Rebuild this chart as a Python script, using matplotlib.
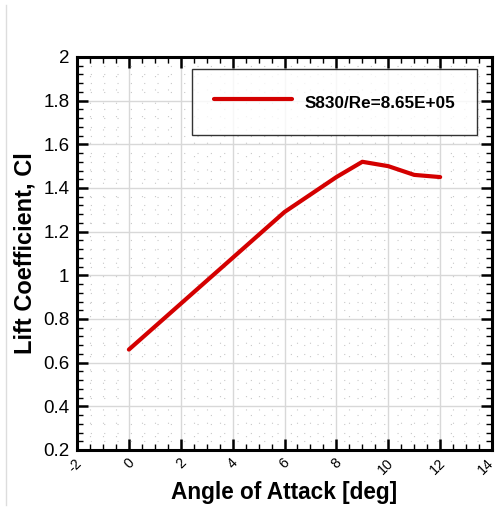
import matplotlib
matplotlib.use("Agg")
import matplotlib.pyplot as plt
from matplotlib.ticker import MultipleLocator
from matplotlib.lines import Line2D
from matplotlib.transforms import ScaledTranslation

plt.rcParams['font.family'] = ['Liberation Sans', 'DejaVu Sans']

alpha = [0, 1, 2, 3, 4, 5, 6, 7, 8, 9, 10, 11, 12]
cl = [0.66, 0.765, 0.87, 0.975, 1.08, 1.185, 1.29, 1.37, 1.45, 1.52, 1.50, 1.46, 1.45]
series_label = "S830/Re=8.65E+05"
x_ticks = [-2, 0, 2, 4, 6, 8, 10, 12, 14]
y_ticks = [0.2, 0.4, 0.6, 0.8, 1, 1.2, 1.4, 1.6, 1.8, 2]

fig = plt.figure(figsize=(4.95, 5.12), dpi=100)
ax = fig.add_axes([0.1556, 0.1211, 0.8384, 0.7676])

ax.plot(alpha, cl, color='#d40000', lw=3.0, solid_capstyle='round',
        solid_joinstyle='round', label=series_label, zorder=3)

ax.set_xlim(-2, 14)
ax.set_ylim(0.2, 2)
ax.set_xticks(x_ticks)
ax.set_yticks(y_ticks)
ax.set_xticklabels([''] * len(x_ticks))
for t in x_ticks:
    dx = -6 if t == x_ticks[-1] else -2
    tr = ax.get_xaxis_transform() + ScaledTranslation(dx/100, -6/100, fig.dpi_scale_trans)
    ax.text(t, 0, str(t), transform=tr, rotation=45, rotation_mode='anchor',
            ha='right', va='top', fontsize=10.3, clip_on=False)
ax.set_yticklabels([('%g' % t) for t in y_ticks], fontsize=13.5)
ax.xaxis.set_minor_locator(MultipleLocator(0.5))
ax.yaxis.set_minor_locator(MultipleLocator(0.04))

ax.grid(which='major', color='#d8d8d8', lw=1.0, zorder=0)
ax.grid(which='minor', color='#c8c8c8', lw=0.8, ls=(0, (1, 11)), zorder=0)

ax.tick_params(which='major', direction='in', length=8, width=1.8,
               top=True, right=True)
ax.tick_params(axis='y', which='major', pad=5.5)
ax.tick_params(which='minor', direction='in', length=4, width=1.0,
               top=True, right=True)
for s in ax.spines.values():
    s.set_linewidth(2.2)

ax.set_xlabel("Angle of Attack [deg]", fontsize=16.3, fontweight='bold', labelpad=19)
ax.set_ylabel("Lift Coefficient, Cl", fontsize=17, fontweight='bold', labelpad=5)

leg = ax.legend(loc='upper right', bbox_to_anchor=(0.964, 0.9695),
                prop={'weight': 'bold', 'size': 12.3}, frameon=True, fancybox=False,
                edgecolor='black', borderpad=1.29, handlelength=4.6, handletextpad=0.7,
                handleheight=1.6, borderaxespad=0)
leg.get_frame().set_linewidth(1.0)

fig.add_artist(Line2D([6/495, 6/495], [1 - 5/512, 1 - 505/512],
                      transform=fig.transFigure, color='#dddddd', lw=1))

fig.savefig("out.png", dpi=100)
